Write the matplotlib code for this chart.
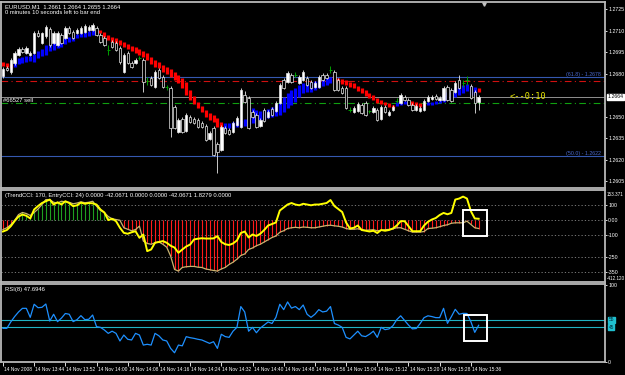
import numpy as np
import matplotlib.pyplot as plt
import matplotlib.transforms as mtrans
from matplotlib.patches import Rectangle

# EURUSD M1, 14 Nov 2008 -- prices, in pips above 1.2600
base = 1.2600
o_pips = [78.5, 84.0, 81.2, 87.5, 93.1, 97.3, 94.5, 93.1, 94.5, 108.5,
          101.5, 106.4, 111.3, 101.5, 100.1, 107.1, 105.0, 112.0, 109.2, 108.5,
          108.5, 109.2, 110.6, 110.6, 112.0, 107.1, 105.0, 96.6, 102.2, 101.5,
          98.0, 81.2, 94.5, 87.5, 87.5, 91.0, 89.6, 75.0, 77.1, 70.8,
          82.6, 77.8, 70.8, 70.1, 56.8, 39.4, 48.4, 40.1, 49.8, 48.4,
          47.7, 45.6, 43.6, 34.5, 42.2, 31.0, 26.8, 42.2, 40.8, 39.4,
          44.3, 42.9, 65.2, 63.1, 53.3, 51.2, 43.6, 54.7, 49.8, 55.4,
          54.0, 59.6, 75.7, 74.3, 79.1, 79.1, 73.6, 75.7, 77.1, 74.3,
          70.8, 70.8, 79.1, 79.1, 82.6, 81.2, 75.7, 70.1, 70.1, 54.7,
          53.3, 54.0, 58.2, 59.6, 54.0, 53.3, 54.7, 48.4, 56.8, 51.2,
          54.7, 61.0, 59.6, 63.8, 61.7, 58.2, 54.7, 54.0, 54.7, 61.0,
          62.4, 64.5, 61.7, 61.7, 70.8, 68.7, 67.3, 75.7, 73.6, 75.7,
          71.5, 67.3, 60.3]
h_pips = [84.7, 85.4, 91.0, 95.9, 98.7, 98.7, 99.4, 95.9, 109.9, 110.6,
          109.2, 114.1, 112.7, 109.9, 109.9, 108.5, 113.4, 113.4, 110.6, 112.0,
          113.4, 114.8, 114.1, 115.2, 113.4, 108.5, 106.4, 100.1, 103.6, 102.9,
          99.4, 94.5, 95.9, 88.9, 91.0, 92.4, 91.0, 77.8, 78.5, 82.6,
          84.0, 79.2, 72.2, 71.5, 58.2, 49.1, 49.8, 52.6, 51.2, 49.8,
          49.1, 47.0, 45.0, 40.1, 43.6, 32.4, 44.3, 43.6, 42.2, 47.0,
          50.5, 70.1, 68.0, 64.5, 54.7, 52.6, 49.1, 56.1, 54.7, 56.8,
          61.0, 73.6, 77.1, 81.9, 80.5, 81.2, 79.2, 82.6, 78.5, 75.7,
          75.0, 79.2, 80.5, 80.5, 85.4, 82.6, 77.1, 71.5, 71.5, 56.8,
          57.5, 60.3, 59.6, 61.0, 54.7, 57.5, 56.1, 58.2, 58.2, 54.7,
          58.2, 63.1, 66.6, 65.2, 63.1, 59.6, 58.9, 57.5, 62.4, 65.2,
          65.2, 65.9, 64.5, 71.5, 72.2, 70.1, 75.0, 79.1, 75.7, 78.5,
          72.9, 68.7, 65.2]
l_pips = [77.1, 81.9, 79.8, 86.1, 92.4, 94.5, 93.8, 92.4, 93.8, 105.7,
          100.8, 105.0, 98.7, 100.8, 99.4, 100.8, 104.3, 107.8, 104.3, 107.8,
          107.8, 108.5, 109.9, 109.9, 106.4, 101.5, 99.4, 93.1, 98.0, 95.9,
          86.8, 80.5, 86.8, 84.0, 86.8, 89.6, 67.3, 72.2, 71.5, 70.1,
          76.4, 70.1, 68.7, 35.9, 41.5, 38.7, 38.7, 39.4, 45.6, 44.9,
          42.2, 42.2, 33.1, 33.8, 22.6, 10.7, 26.1, 38.0, 37.3, 38.7,
          43.6, 42.2, 59.6, 41.5, 49.1, 42.2, 42.9, 46.3, 49.1, 50.5,
          53.3, 58.9, 69.4, 73.6, 73.6, 77.8, 72.9, 75.0, 71.5, 69.4,
          70.1, 70.1, 75.0, 76.4, 80.5, 68.0, 68.0, 65.9, 55.4, 53.3,
          52.6, 53.3, 51.9, 50.5, 52.6, 52.6, 47.0, 47.7, 52.6, 50.5,
          54.0, 59.6, 58.9, 61.0, 57.5, 54.0, 54.0, 53.3, 54.0, 60.3,
          61.7, 61.7, 61.0, 61.0, 61.0, 60.3, 66.6, 69.4, 70.8, 72.2,
          62.4, 52.6, 54.7]
c_pips = [83.3, 82.6, 89.6, 94.5, 97.3, 95.2, 98.0, 94.5, 108.5, 106.4,
          108.5, 112.7, 100.1, 108.5, 108.5, 101.5, 112.0, 108.5, 105.0, 110.6,
          112.0, 113.4, 112.7, 114.1, 107.1, 102.2, 100.1, 96.6, 98.7, 96.6,
          88.2, 93.1, 87.5, 84.7, 89.6, 91.0, 74.3, 75.0, 72.2, 81.2,
          77.1, 70.8, 70.8, 42.2, 42.2, 47.7, 39.4, 51.2, 46.3, 45.6,
          42.9, 42.9, 33.8, 38.7, 23.3, 25.4, 42.9, 38.7, 38.0, 45.6,
          49.1, 68.7, 60.3, 42.2, 49.8, 42.9, 47.7, 47.0, 53.3, 51.2,
          59.6, 72.2, 70.1, 80.5, 74.3, 79.1, 77.8, 81.2, 72.2, 70.1,
          73.6, 77.8, 75.7, 77.1, 82.6, 68.7, 68.7, 66.6, 56.1, 54.7,
          56.1, 58.9, 52.6, 51.2, 54.0, 56.1, 47.7, 56.8, 53.3, 53.3,
          56.8, 61.0, 65.2, 61.7, 58.2, 54.7, 57.5, 56.1, 61.0, 63.8,
          63.8, 62.4, 63.1, 70.1, 61.7, 61.0, 73.6, 70.1, 73.6, 75.7,
          63.1, 59.6, 63.8]

# trend bars (red = down, blue = up)
ha_hi = [88.2, 87.5, 86.8, 91.0, 91.0, 91.7, 92.4, 92.4, 93.8, 95.9,
         97.3, 100.1, 100.8, 102.2, 102.2, 103.6, 105.0, 105.7, 106.4, 107.8,
         108.5, 109.2, 109.9, 110.6, 110.6, 110.6, 109.2, 107.1, 105.7, 105.0,
         103.6, 102.2, 100.8, 99.4, 98.7, 97.3, 95.9, 94.5, 91.7, 89.6,
         88.2, 86.1, 84.7, 83.3, 81.2, 79.1, 77.1, 74.3, 68.7, 64.5,
         60.3, 57.5, 54.7, 52.6, 51.2, 49.1, 46.3, 45.6, 45.6, 46.3,
         47.0, 47.7, 48.4, 51.2, 56.1, 54.7, 54.0, 54.7, 55.4, 56.8,
         58.2, 60.3, 63.8, 66.6, 68.7, 70.1, 72.2, 73.6, 73.6, 74.3,
         75.0, 75.7, 76.4, 77.1, 77.8, 78.5, 77.1, 76.4, 75.7, 74.3,
         73.6, 71.5, 70.1, 68.7, 66.6, 65.2, 63.1, 61.7, 60.3, 59.6,
         58.2, 60.3, 61.0, 61.0, 61.0, 61.0, 60.3, 59.6, 59.6, 60.3,
         60.3, 61.0, 61.7, 65.2, 67.3, 67.3, 70.1, 71.5, 72.2, 72.9,
         71.5, 70.8, 70.1]
ha_lo = [85.4, 84.7, 84.0, 84.7, 86.8, 87.5, 88.2, 88.9, 88.2, 91.0,
         92.4, 93.1, 95.9, 96.6, 98.0, 98.7, 100.8, 102.2, 102.9, 105.0,
         105.7, 105.7, 106.4, 107.1, 107.8, 108.5, 105.7, 103.6, 102.2, 101.5,
         100.1, 98.7, 97.3, 95.9, 94.5, 93.1, 91.7, 89.6, 86.8, 84.7,
         84.0, 81.2, 79.8, 77.8, 75.7, 73.6, 70.1, 65.2, 61.7, 58.9,
         56.1, 53.3, 49.8, 47.7, 46.3, 42.9, 40.8, 40.8, 42.2, 42.2,
         42.9, 42.9, 43.6, 44.9, 45.6, 47.0, 47.7, 47.7, 49.1, 49.8,
         50.5, 51.2, 53.3, 56.1, 58.2, 60.3, 63.8, 66.6, 67.3, 67.3,
         68.7, 70.1, 71.5, 72.2, 73.6, 75.0, 73.6, 72.9, 72.2, 70.8,
         70.1, 68.0, 66.6, 64.5, 63.1, 61.7, 59.6, 58.9, 58.2, 56.8,
         56.1, 57.5, 58.2, 58.9, 58.2, 58.2, 57.5, 56.8, 57.5, 58.2,
         58.2, 58.9, 59.6, 60.3, 61.7, 62.4, 63.8, 65.2, 66.6, 68.0,
         65.2, 65.2, 67.3]
ha_trend = "r" * 3 + "b" * 22 + "r" * 32 + "b" * 28 + "r" * 16 + "b" * 4 + "r" * 4 + "b" * 13 + "r"

trend_cci = [-67, -55, -35, -5, 33, 47, 40, 27, 47, 70,
             100, 133, 133, 115, 110, 122, 118, 115, 105, 110,
             118, 112, 115, 122, 89, 60, 47, 20, 5, 0,
             -5, -55, -65, -75, -67, -44, -144, -160, -165, -155,
             -150, -165, -185, -244, -333, -344, -320, -315, -313, -313,
             -318, -320, -330, -335, -340, -344, -330, -320, -300, -285,
             -265, -240, -230, -200, -190, -175, -165, -150, -135, -120,
             -110, -85, -75, -60, -55, -52, -55, -50, -52, -55,
             -55, -50, -45, -40, -38, -42, -45, -50, -60, -65,
             -65, -62, -68, -72, -70, -68, -75, -72, -68, -66,
             -62, -55, -55, -65, -75, -84, -84, -84, -80, -60,
             -58, -55, -48, -40, -35, -25, -22, -22, -22, -11,
             -33, -55, -60]
entry_cci = [-80, -70, -45, -10, 20, 33, 25, 7, 67, 90,
             110, 122, 133, 100, 115, 100, 122, 110, 89, 95,
             113, 105, 110, 108, 100, 67, 47, -4, 5, -11,
             -55, -89, -95, -85, -78, -122, -100, -211, -200, -155,
             -150, -144, -155, -175, -187, -222, -200, -180, -167, -133,
             -128, -125, -127, -127, -126, -111, -150, -165, -170, -160,
             -140, -90, -80, -120, -100, -110, -95, -70, -40, -30,
             -20, 60, 80, 100, 110, 100, 95, 105, 100, 95,
             100, 100, 105, 110, 130, 90, 70, 50, -20, -60,
             -55, -40, -70, -75, -80, -75, -90, -70, -75, -70,
             -60, -40, -11, -11, -44, -78, -78, -78, -40, -15,
             0, 10, 30, 44, 35, 44, 133, 140, 153, 140,
             56, 7, 5]
rsi = [43.7, 43.7, 52, 59, 65, 69.7, 69.7, 58, 75, 70.5,
       71, 75.3, 53.2, 62, 52.4, 57, 63, 62, 52.4, 55,
       60.2, 55, 55.5, 61, 45.9, 45, 41.6, 37.2, 40, 37.2,
       27.3, 35, 29.5, 28.6, 37.2, 35, 22, 23, 22, 37.2,
       34, 28.6, 27.3, 17.7, 12, 22, 21, 32.9, 31.6, 30.7,
       29.5, 28.6, 26.4, 24.2, 26.4, 17.7, 36, 33, 32, 40,
       45, 72, 65, 40, 45, 38, 44, 48, 52, 50,
       58, 75, 68, 78, 70, 72, 68, 74, 62, 58,
       62, 68, 65, 66, 72, 50, 48, 45, 32, 30,
       35, 40, 34, 33, 36, 40, 32, 45, 42, 43,
       47, 55, 60, 54, 48, 43, 43.5, 50, 57.6, 60,
       59, 57.6, 57.6, 69.7, 50.2, 58.9, 68.4, 62, 63.2, 63,
       52.4, 38.5, 47.7]

time_labels = ['14 Nov 2008', '14 Nov 13:44', '14 Nov 13:52', '14 Nov 14:00',
               '14 Nov 14:08', '14 Nov 14:16', '14 Nov 14:24', '14 Nov 14:32',
               '14 Nov 14:40', '14 Nov 14:48', '14 Nov 14:56', '14 Nov 15:04',
               '14 Nov 15:12', '14 Nov 15:20', '14 Nov 15:28', '14 Nov 15:36']
price_ticks = [1.2605, 1.2620, 1.2635, 1.2650, 1.2680, 1.2695, 1.2710, 1.2725]
cci_ticks = [100, 0, -100, -250, -350]
cci_tick_labels = ['100', '0.00', '-100', '-250', '-350']
last_price = 1.2664
fib_618, fib_500 = 1.26775, 1.26227
stop_line, order_line = 1.26750, 1.26596

plt.rcParams['font.family'] = ['Liberation Sans', 'DejaVu Sans']

o = base + np.array(o_pips) / 1e4
h = base + np.array(h_pips) / 1e4
l = base + np.array(l_pips) / 1e4
c = base + np.array(c_pips) / 1e4
hh = base + np.array(ha_hi) / 1e4
hl = base + np.array(ha_lo) / 1e4
x = np.arange(len(o))

W, H = 625, 375
fig = plt.figure(figsize=(W / 100, H / 100), dpi=100, facecolor='black')


def box(x0, y0, x1, y1):
    return [x0 / W, 1 - y1 / H, (x1 - x0) / W, (y1 - y0) / H]


ax1 = fig.add_axes(box(1, 2, 605, 188))
ax2 = fig.add_axes(box(1, 190, 605, 282))
ax3 = fig.add_axes(box(1, 284, 605, 362))
fs = 4.2     # window labels
tfs = 3.5    # time labels
yfs = 3.8    # price scale labels
for ax in (ax1, ax2, ax3):
    ax.set_facecolor('black')
    ax.set_xlim(-0.5, 154.4)
    for s in ax.spines.values():
        s.set_color('#b8b8b8')
        s.set_linewidth(1.3)
    ax.yaxis.tick_right()
    ax.tick_params(axis='y', colors='white', labelsize=yfs, length=1.5, width=0.6, pad=0.7)
    ax.tick_params(axis='x', colors='white', labelsize=tfs, length=3, width=0.6, pad=0.8)

# ---- main price window ----
ax1.set_ylim(1.26003, 1.27301)
ax1.set_xticks([])
ax1.set_yticks(price_ticks)
ax1.set_yticklabels([f'{p:.4f}' for p in price_ticks])

ha_col = ['#ff0000' if t == 'r' else '#0000ff' for t in ha_trend]
ax1.vlines(x, hl, hh, colors=ha_col, linewidth=2.3, zorder=2)

for i in x:
    if o[i] == c[i]:
        ax1.vlines(i, l[i], h[i], color='#00a000', linewidth=0.7, zorder=3)
        ax1.hlines(o[i], i - 0.4, i + 0.4, color='#00a000', linewidth=0.7, zorder=3)
        continue
    ax1.vlines(i, l[i], h[i], color='#e8e8e8', linewidth=0.6, zorder=3)
    up = c[i] > o[i]
    ax1.bar(i, abs(c[i] - o[i]), bottom=min(o[i], c[i]), width=0.62,
            color='white' if up else 'black', edgecolor='#e8e8e8',
            linewidth=0.5, zorder=4)

ax1.axhline(fib_618, color='#3558b0', linewidth=0.8, zorder=1)
ax1.axhline(fib_500, color='#3558b0', linewidth=0.8, zorder=1)
ax1.axhline(stop_line, color='#d01010', linewidth=0.8, linestyle=(0, (6, 3, 1, 3)), zorder=1)
ax1.axhline(order_line, color='#10a010', linewidth=0.8, linestyle=(0, (6, 3, 1, 3)), zorder=1)
ax1.axhline(last_price, color='#909090', linewidth=0.7, zorder=1)

yb = mtrans.blended_transform_factory(ax1.transAxes, ax1.transData)
ax1.text(0.993, fib_618, '(61.8) - 1.2678', transform=yb, ha='right', va='bottom',
         fontsize=3.8, color='#4a6ad0')
ax1.text(0.993, fib_500, '(50.0) - 1.2622', transform=yb, ha='right', va='bottom',
         fontsize=3.8, color='#4a6ad0')
ax1.text(1.004, last_price, f'{last_price:.4f}', transform=yb, ha='left', va='center',
         fontsize=yfs, color='black', zorder=10, clip_on=False,
         bbox=dict(boxstyle='square,pad=0.12', fc='white', ec='white'))
ax1.text(0.004, order_line, '#66527 sell', transform=yb, ha='left', va='bottom',
         fontsize=fs, color='white')
ax1.text(130, last_price, '<--0:10', ha='left', va='center', fontsize=6.2,
         color='#e8e800', family='DejaVu Sans Mono')
ax1.text(0.006, 0.99, 'EURUSD,M1  1.2661 1.2664 1.2655 1.2664', transform=ax1.transAxes,
         ha='left', va='top', fontsize=fs, color='white')
ax1.text(0.006, 0.955, '0 minutes 10 seconds left to bar end', transform=ax1.transAxes,
         ha='left', va='top', fontsize=fs, color='white')
ax1.plot([123.3], [1.2729], marker='v', markersize=2.5, color='#c0c0c0', clip_on=False)

# ---- CCI window ----
ax2.set_ylim(-417, 197)
ax2.set_xticks([])
ax2.set_yticks(cci_ticks)
ax2.set_yticklabels(cci_tick_labels)
for lv in cci_ticks:
    ax2.axhline(lv, color='#8a8a8a', linewidth=0.6, linestyle=(0, (1.5, 2.5)), zorder=1)
tc = np.array(trend_cci)
hist_col = ['#1f9e1f' if v > 0 else ('#a0a0a0' if v == 0 else '#ff1a1a') for v in tc]
ax2.vlines(x, 0, tc, colors=hist_col, linewidth=0.8, zorder=2)
ax2.plot(x, tc, color='#c8b470', linewidth=0.9, zorder=3)
ax2.plot(x, entry_cci, color='#ffff00', linewidth=1.4, zorder=4)
ax2.add_patch(Rectangle((118.0, -110), 6.1, 173, fill=False, ec='white', lw=1.4, zorder=5))
yb2 = mtrans.blended_transform_factory(ax2.transAxes, ax2.transData)
ax2.text(1.003, 170, '153.371', transform=yb2, ha='left', va='center', fontsize=3.3, color='white')
ax2.text(1.003, -392, '-412.120', transform=yb2, ha='left', va='center', fontsize=3.3, color='white')
ax2.text(0.006, 0.97, '(TrendCCI: 170, EntryCCI: 24) 0.0000 -42.0671 0.0000 0.0000 -42.0671 1.8279 0.0000',
         transform=ax2.transAxes, ha='left', va='top', fontsize=fs, color='white')

# ---- RSI window ----
ax3.set_ylim(0, 101.3)
ax3.set_yticks([100, 0])
ax3.set_yticklabels(['100', '0'])
for lv in (55, 45):
    ax3.axhline(lv, color='#20b4c4', linewidth=0.8, zorder=1)
ax3.plot(x, rsi, color='#1e90ff', linewidth=0.9, zorder=3)
ax3.add_patch(Rectangle((118.3, 27.3), 5.8, 33.7, fill=False, ec='white', lw=1.4, zorder=5))
yb3 = mtrans.blended_transform_factory(ax3.transAxes, ax3.transData)
for lv in (55, 45):
    ax3.text(1.006, lv, str(lv), transform=yb3, ha='left', va='center', fontsize=3.4,
             color='#003040', bbox=dict(boxstyle='square,pad=0.1', fc='#20c0d0', ec='#20c0d0'))
ax3.text(0.006, 0.96, 'RSI(8) 47.6946', transform=ax3.transAxes, ha='left', va='top',
         fontsize=fs, color='white')
ax3.set_xticks(np.arange(0, 121, 8))
ax3.set_xticklabels(time_labels)
shift = mtrans.ScaledTranslation(0.8 / 72, 0, fig.dpi_scale_trans)
for lbl in ax3.get_xticklabels():
    lbl.set_ha('left')
    lbl.set_transform(lbl.get_transform() + shift)

fig.savefig('out.png', dpi=100, facecolor='black')
